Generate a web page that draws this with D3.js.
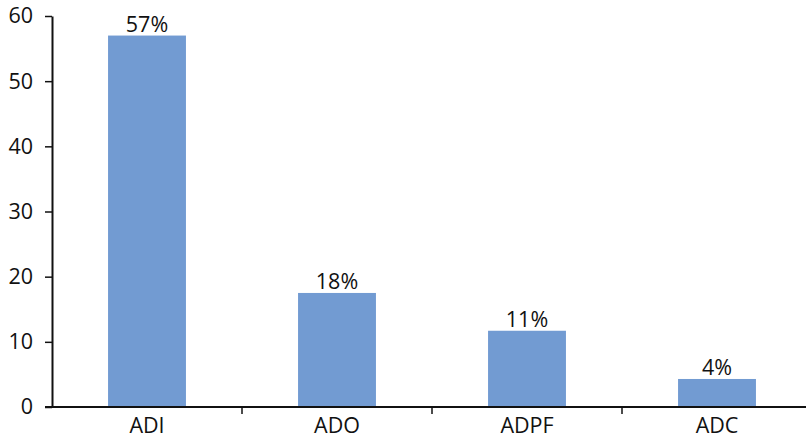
<!DOCTYPE html>
<html>
<head>
<meta charset="utf-8">
<script src="https://cdn.jsdelivr.net/npm/d3@7"></script>
<style>
  body { margin: 0; background: #fff; }
  svg { display: block; }
  text { font-family: "Open Sans", sans-serif; fill: #111; }
</style>
</head>
<body>
<div id="chart"></div>
<script>
// data
const categories = ["ADI", "ADO", "ADPF", "ADC"];
const values = [57, 17.5, 11.7, 4.3];
const valueLabels = ["57%", "18%", "11%", "4%"];
const yTicks = [0, 10, 20, 30, 40, 50, 60];

const width = 806, height = 439;
const left = 52, zeroY = 407, topY = 16;
const fontSize = "21.5px";

const svg = d3.select("#chart").append("svg")
    .attr("width", width)
    .attr("height", height);

// band axis runs slightly past the right edge, like the original
const x = d3.scaleBand()
    .domain(categories)
    .range([left, left + 4 * 190])
    .paddingInner(0.59)
    .paddingOuter(0.295);

const band = d3.scaleBand().domain(categories).range([left, left + 4 * 190]);

const y = d3.scaleLinear().domain([0, 60]).range([zeroY, topY]);

// bars
svg.selectAll(".bar")
    .data(values)
    .enter()
    .append("rect")
    .attr("class", "bar")
    .attr("x", (d, i) => x(categories[i]))
    .attr("width", x.bandwidth())
    .attr("y", d => y(d))
    .attr("height", d => y(0) - y(d))
    .attr("fill", "#729bd2");

// value labels on top of the bars
svg.selectAll(".val")
    .data(values)
    .enter()
    .append("text")
    .attr("class", "val")
    .attr("x", (d, i) => x(categories[i]) + x.bandwidth() / 2)
    .attr("y", d => y(d) - 4)
    .attr("text-anchor", "middle")
    .style("font-size", fontSize)
    .text((d, i) => valueLabels[i]);

// y axis
const yAxis = svg.append("g")
    .attr("transform", `translate(${left},0)`)
    .call(d3.axisLeft(y).tickValues(yTicks).tickSize(7).tickPadding(12).tickSizeOuter(0));
yAxis.select(".domain").attr("stroke", "#111").attr("stroke-width", 2);
yAxis.selectAll(".tick line").attr("stroke", "#111").attr("stroke-width", 1.5);
yAxis.selectAll(".tick text").style("font-size", fontSize).attr("fill", "#111");

// x axis: ticks between categories
const xAxis = svg.append("g")
    .attr("transform", `translate(0,${zeroY})`);
xAxis.append("line")
    .attr("x1", left - 7).attr("x2", width)
    .attr("stroke", "#111").attr("stroke-width", 2);
xAxis.selectAll(".sep")
    .data(categories)
    .enter()
    .append("line")
    .attr("x1", d => band(d) + band.bandwidth())
    .attr("x2", d => band(d) + band.bandwidth())
    .attr("y1", 0).attr("y2", 7)
    .attr("stroke", "#111").attr("stroke-width", 1.5);
xAxis.selectAll(".cat")
    .data(categories)
    .enter()
    .append("text")
    .attr("class", "cat")
    .attr("x", d => x(d) + x.bandwidth() / 2)
    .attr("y", 26)
    .attr("text-anchor", "middle")
    .style("font-size", fontSize)
    .text(d => d);
</script>
</body>
</html>
